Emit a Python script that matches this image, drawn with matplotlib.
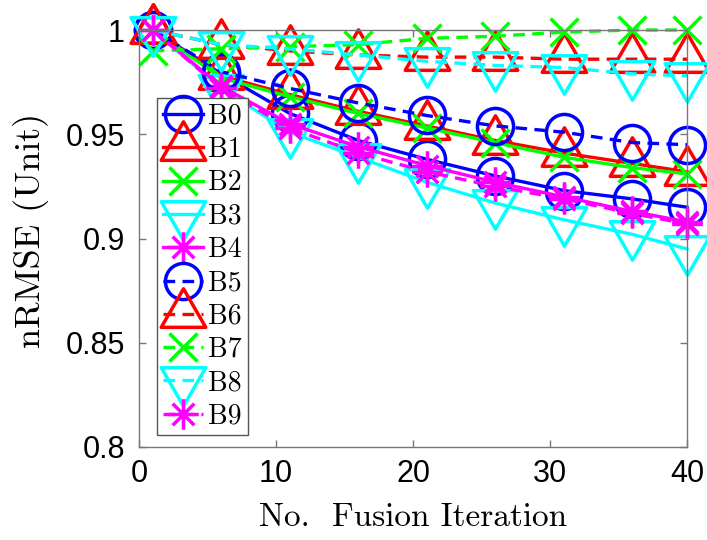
import numpy as np
import matplotlib
matplotlib.use('Agg')
import matplotlib.pyplot as plt
from matplotlib.path import Path

# fusion iterations where the errors were sampled
iters = [1, 6, 11, 16, 21, 26, 31, 36, 40]

b0 = [1.000, 0.979, 0.960, 0.947, 0.938, 0.930, 0.923, 0.919, 0.915]
b1 = [1.000, 0.978, 0.969, 0.961, 0.954, 0.947, 0.941, 0.936, 0.932]
b2 = [1.000, 0.977, 0.968, 0.960, 0.953, 0.946, 0.939, 0.934, 0.931]
b3 = [1.000, 0.972, 0.951, 0.939, 0.927, 0.917, 0.909, 0.902, 0.895]
b4 = [1.000, 0.973, 0.955, 0.944, 0.935, 0.927, 0.920, 0.913, 0.908]
b5 = [1.000, 0.980, 0.972, 0.965, 0.959, 0.954, 0.951, 0.946, 0.945]
b6 = [1.000, 0.993, 0.990, 0.988, 0.987, 0.987, 0.986, 0.986, 0.986]
b7 = [0.990, 0.991, 0.992, 0.993, 0.996, 0.997, 0.999, 1.000, 1.000]
b8 = [1.000, 0.993, 0.991, 0.988, 0.985, 0.983, 0.982, 0.979, 0.978]
b9 = [1.000, 0.972, 0.953, 0.941, 0.932, 0.925, 0.919, 0.912, 0.907]

names = ['B0', 'B1', 'B2', 'B3', 'B4', 'B5', 'B6', 'B7', 'B8', 'B9']
series = [b0, b1, b2, b3, b4, b5, b6, b7, b8, b9]

xticks = [0, 10, 20, 30, 40]
yticks = [0.8, 0.85, 0.9, 0.95, 1.0]
ytick_labels = ['0.8', '0.85', '0.9', '0.95', '1']

# matlab style markers: triangles sit on their centroid, asterisk has 8 arms
s = np.sqrt(3) / 2
tri_up = Path([(0, 1), (-s, -0.5), (s, -0.5), (0, 1)],
              [Path.MOVETO, Path.LINETO, Path.LINETO, Path.CLOSEPOLY])
tri_dn = Path([(0, -1), (-s, 0.5), (s, 0.5), (0, -1)],
              [Path.MOVETO, Path.LINETO, Path.LINETO, Path.CLOSEPOLY])
d = np.sqrt(0.5)
star = Path([(0, -1), (0, 1), (-1, 0), (1, 0), (-d, -d), (d, d), (-d, d), (d, -d)],
            [Path.MOVETO, Path.LINETO] * 4)

colors = ['#0000ff', '#ff0000', '#00ff00', '#00ffff', '#ff00ff']
markers = ['o', tri_up, 'x', tri_dn, star]
msizes = [26, 37, 20, 37, 22]

fig = plt.figure(figsize=(7.07, 5.40), dpi=100, facecolor='white')
ax = fig.add_axes([139 / 707, 1 - 447 / 540, 548 / 707, 417 / 540])

for i, (name, vals) in enumerate(zip(names, series)):
    k = i % 5
    ls = '-' if i < 5 else '--'
    line, = ax.plot(iters, vals, color=colors[k], lw=2.4, ls=ls,
                    marker=markers[k], ms=msizes[k], mew=2.5,
                    mfc='none', mec=colors[k], label=name, clip_on=False)
    if i >= 5:
        line.set_dashes((3.5, 2.2))

ax.set_xlim(0, 40)
ax.set_ylim(0.8, 1.0)
ax.set_xticks(xticks)
ax.set_yticks(yticks)
ax.set_yticklabels(ytick_labels)
ax.tick_params(direction='in', length=5, width=1, color='#777777',
               top=True, right=True, labelsize=22)
ax.tick_params(axis='x', pad=9)
ax.tick_params(axis='y', pad=10)
for lab in ax.get_xticklabels() + ax.get_yticklabels():
    lab.set_family('Liberation Sans')
for sp in ax.spines.values():
    sp.set_color('#777777')
    sp.set_linewidth(1)

ax.set_xlabel('No.  Fusion Iteration', family='cmr10', fontsize=24)
ax.set_ylabel('nRMSE (Unit)', family='cmr10', fontsize=26)
ax.xaxis.set_label_coords(0.5, -0.135)
ax.yaxis.set_label_coords(-0.165, 0.52)

leg = ax.legend(loc='upper left', bbox_to_anchor=(18 / 548, 349 / 417),
                prop={'family': 'cmr10', 'size': 20}, frameon=True,
                fancybox=False, edgecolor='#555555', framealpha=1,
                borderaxespad=0, borderpad=0.2, labelspacing=0.25,
                handlelength=1.45, handletextpad=0.2)
leg.get_frame().set_linewidth(1)

fig.savefig('out.png', dpi=100)
